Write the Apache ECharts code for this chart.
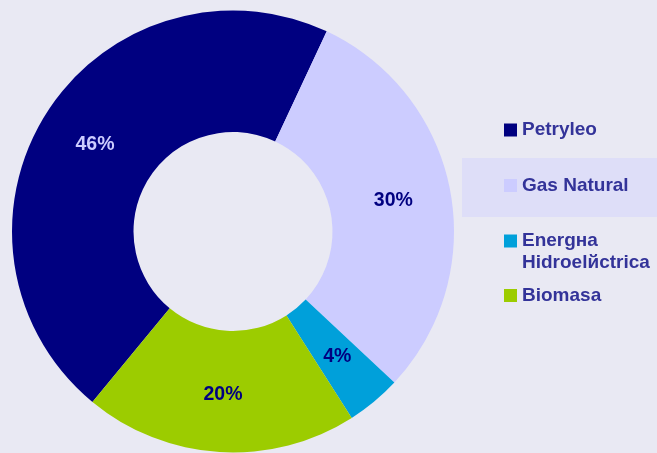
<!DOCTYPE html>
<html>
<head>
<meta charset="utf-8">
<script src="https://cdn.jsdelivr.net/npm/echarts@6/dist/echarts.min.js"></script>
<style>
  html, body { margin: 0; padding: 0; }
  #chart { width: 657px; height: 453px; }
</style>
</head>
<body>
<div id="chart"></div>
<script>
// Energy sources share (%)
const sources = ['Petryleo', 'Gas Natural', 'Energнa Hidroelйctrica', 'Biomasa'];
const shares = [46, 30, 4, 20];
const colors = ['#000080', '#ccccff', '#00a0da', '#9ccc00'];
const labelColors = ['#ccccff', '#000080', '#000080', '#000080'];

const font = '"Liberation Sans", Arial, sans-serif';

// One legend block per source so each entry sits at its own height;
// the two-line entry keeps its square beside the first line.
function legendFor(i, top) {
  return {
    data: [sources[i]],
    orient: 'vertical',
    left: 504,
    top: top,
    padding: 0,
    itemWidth: 13,
    itemHeight: 13,
    itemGap: 0,
    selectedMode: false,
    icon: 'rect',
    formatter: name => name.indexOf(' Hidro') > 0 ? '\n' + name.replace(' Hidro', '\nHidro') : name,
    textStyle: {
      fontFamily: font,
      fontWeight: 'bold',
      fontSize: 19,
      lineHeight: 22,
      color: '#333399'
    }
  };
}

const chart = echarts.init(document.getElementById('chart'), null, { renderer: 'canvas' });
chart.setOption({
  backgroundColor: '#e9e9f3',
  animation: false,
  graphic: [{
    type: 'rect',
    z: 0,
    shape: { x: 462, y: 158, width: 195, height: 59 },
    style: { fill: '#dedef8' }
  }],
  legend: [
    legendFor(0, 119),
    legendFor(1, 174.5),
    legendFor(2, 208),
    legendFor(3, 284.5)
  ],
  series: [{
    type: 'pie',
    center: [233, 231.5],
    radius: [99.5, 221],
    startAngle: 230.5,
    clockwise: true,
    avoidLabelOverlap: false,
    emphasis: { disabled: true },
    label: {
      show: true,
      position: 'inside',
      formatter: '{c}%',
      fontFamily: font,
      fontWeight: 'bold',
      fontSize: 19.5
    },
    labelLine: { show: false },
    data: sources.map((name, i) => ({
      name: name,
      value: shares[i],
      itemStyle: { color: colors[i] },
      label: { color: labelColors[i] }
    }))
  }]
});
</script>
</body>
</html>
